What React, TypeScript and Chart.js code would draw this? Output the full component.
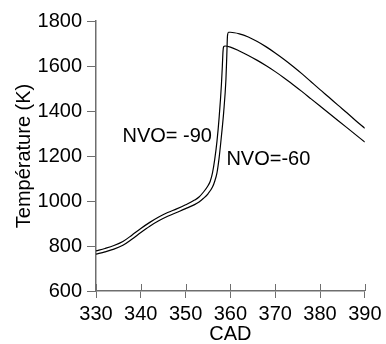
import React, { useEffect, useRef } from 'react';
import { Chart, registerables } from 'chart.js';

Chart.register(...registerables);

// NVO = -90 (earlier combustion, lower peak)
const cadM90 = [330, 332, 334, 336, 338, 340, 342, 344, 346, 348, 350, 352, 353, 354, 355, 355.5, 356, 356.5, 357, 357.5, 358, 358.2, 358.35, 358.5, 358.8, 360, 362, 364, 366, 368, 370, 372, 374, 376, 378, 380, 382, 384, 386, 388, 390];
const tempM90 = [778, 789, 802, 820, 848, 878, 905, 929, 949, 965, 983, 1004, 1018, 1040, 1068, 1088, 1125, 1185, 1265, 1375, 1520, 1600, 1665, 1686, 1689, 1684, 1667, 1647, 1625, 1601, 1575, 1547, 1517, 1486, 1454, 1422, 1390, 1358, 1326, 1294, 1262];

// NVO = -60 (later combustion, higher peak)
const cadM60 = [330, 332, 334, 336, 338, 340, 342, 344, 346, 348, 350, 352, 353, 354, 355, 356, 356.5, 357, 357.5, 358, 358.5, 359, 359.2, 359.35, 359.6, 360, 362, 364, 366, 368, 370, 372, 374, 376, 378, 380, 382, 384, 386, 388, 390];
const tempM60 = [764, 774, 786, 803, 830, 860, 888, 912, 932, 949, 966, 984, 996, 1012, 1032, 1062, 1088, 1125, 1195, 1290, 1395, 1540, 1650, 1735, 1750, 1750, 1743, 1729, 1709, 1685, 1658, 1629, 1598, 1565, 1530, 1495, 1461, 1426, 1392, 1357, 1323];

const xTicks = [330, 340, 350, 360, 370, 380, 390];
const yTicks = [600, 800, 1000, 1200, 1400, 1600, 1800];

const labelTexts = ['NVO= -90', 'NVO=-60'];
const labelCad = [335.9, 359.1];
const labelTemp = [1263, 1160];

const FONT = '"Liberation Sans", Arial, Helvetica, sans-serif';
const AXIS_COLOR = '#6e6e6e';

export default function App() {
  const ref = useRef<HTMLCanvasElement | null>(null);

  useEffect(() => {
    if (!ref.current) return;
    const overlay = {
      id: 'overlay',
      afterDatasetsDraw(chart: any) {
        const { ctx, scales } = chart;
        const x = scales.x;
        const y = scales.y;
        ctx.save();
        ctx.strokeStyle = AXIS_COLOR;
        ctx.lineWidth = 1;
        const b = chart.chartArea.bottom;
        x.ticks.forEach((t: any) => {
          const px = Math.round(x.getPixelForValue(t.value)) + 0.5;
          ctx.beginPath();
          ctx.moveTo(px, b - 7);
          ctx.lineTo(px, b);
          ctx.stroke();
        });
        ctx.fillStyle = '#000';
        ctx.font = '20px ' + FONT;
        ctx.textAlign = 'left';
        ctx.textBaseline = 'alphabetic';
        labelTexts.forEach((txt, i) => {
          ctx.fillText(txt, x.getPixelForValue(labelCad[i]), y.getPixelForValue(labelTemp[i]));
        });
        ctx.restore();
      },
    };

    const chart = new Chart(ref.current, {
      type: 'line',
      data: {
        datasets: [
          {
            label: 'NVO=-90',
            data: cadM90.map((c, i) => ({ x: c, y: tempM90[i] })),
            borderColor: '#000',
            borderWidth: 1.2,
            pointRadius: 0,
            fill: false,
            cubicInterpolationMode: 'monotone',
          },
          {
            label: 'NVO=-60',
            data: cadM60.map((c, i) => ({ x: c, y: tempM60[i] })),
            borderColor: '#000',
            borderWidth: 1.2,
            pointRadius: 0,
            fill: false,
            cubicInterpolationMode: 'monotone',
          },
        ],
      },
      options: {
        responsive: false,
        animation: false,
        layout: { padding: { top: 21, right: 19, left: 0, bottom: 0 } },
        plugins: { legend: { display: false }, tooltip: { enabled: false } },
        scales: {
          x: {
            type: 'linear',
            min: 330,
            max: 390,
            afterBuildTicks: (s: any) => {
              s.ticks = xTicks.map((v) => ({ value: v }));
            },
            afterFit: (s: any) => {
              s.height = 53;
            },
            grid: { drawOnChartArea: false, tickLength: 7, tickColor: AXIS_COLOR, tickWidth: 1 },
            border: { color: AXIS_COLOR, width: 1.5 },
            ticks: { color: '#000', font: { family: FONT, size: 20 }, padding: 4.5, maxRotation: 0, callback: (v: any) => String(v) },
            title: {
              display: true,
              text: 'CAD',
              color: '#000',
              font: { family: FONT, size: 20, lineHeight: 1 },
              padding: { top: 0, bottom: 0 },
            },
          },
          y: {
            type: 'linear',
            min: 600,
            max: 1800,
            afterBuildTicks: (s: any) => {
              s.ticks = yTicks.map((v) => ({ value: v }));
            },
            afterFit: (s: any) => {
              s.width = 96;
            },
            grid: { drawOnChartArea: false, tickLength: 9, tickColor: AXIS_COLOR, tickWidth: 1 },
            border: { color: AXIS_COLOR, width: 1.5 },
            ticks: { color: '#000', font: { family: FONT, size: 20 }, padding: 5, callback: (v: any) => String(v) },
            title: {
              display: true,
              text: 'Température (K)',
              color: '#000',
              font: { family: FONT, size: 20, lineHeight: 1 },
              padding: { top: 14.5, bottom: 0 },
            },
          },
        },
      },
      plugins: [overlay],
    } as any);
    return () => chart.destroy();
  }, []);

  return (
    <div style={{ position: 'fixed', left: 0, top: 0, width: 386, height: 344, background: '#fff' }}>
      <canvas ref={ref} width={386} height={344} style={{ width: 386, height: 344, display: 'block' }} />
    </div>
  );
}
